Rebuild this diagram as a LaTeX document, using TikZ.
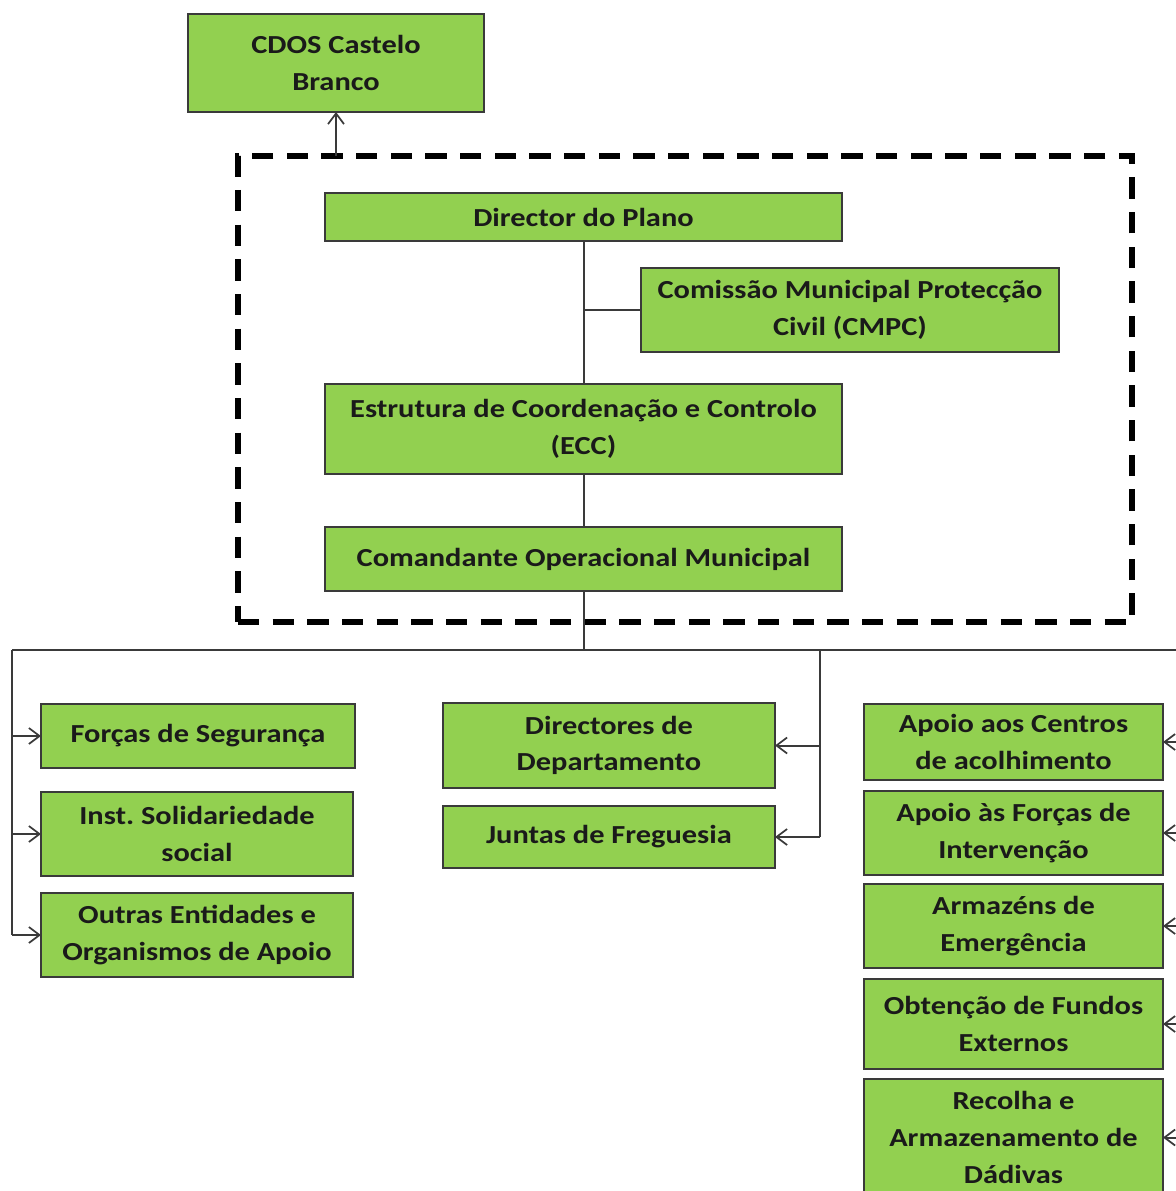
\documentclass[tikz,border=0pt]{standalone}
\usepackage{fontspec}
\setmainfont{Carlito}[FakeStretch=1.17]
\usetikzlibrary{arrows.meta}
\definecolor{boxgreen}{HTML}{92D050}
\definecolor{boxline}{HTML}{3A3A3A}
\definecolor{ink}{HTML}{1A1A1A}
\frenchspacing
\tikzset{
  gbox/.style={draw=boxline, line width=1.5pt, fill=boxgreen, text=ink,
    align=center, inner sep=0pt, outer sep=0pt,
    font=\fontsize{19.5}{27.5}\selectfont\bfseries},
  link/.style={draw=boxline, line width=1.5pt},
  arr/.style={link, -{Straight Barb[length=8pt,width=12pt,line width=1.3pt]}},
  grpframe/.style={draw=black, line width=3.8pt, dash pattern=on 16pt off 10pt,
    inner sep=0pt, outer sep=0pt}
}
% box by its corners: name, x1, y1, x2, y2, text
\newcommand\gbox[6]{%
  \node[gbox, minimum width={(#4-#2)*0.75pt}, minimum height={(#5-#3)*0.75pt}]
    (#1) at ({(#2+#4)/2},{(#3+#5)/2}) {#6};}
\begin{document}
\begin{tikzpicture}[x=0.75pt,y=-0.75pt]
\useasboundingbox (0,0) rectangle (1176,1191);

% coordination structure
\node[grpframe, minimum width={894*0.75pt}, minimum height={466*0.75pt}]
  (grp) at (685,389) {};

\gbox{cdos}{188}{14}{484}{112}{CDOS Castelo\\Branco}
\gbox{dir}{325}{193}{842}{241}{Director do Plano}
\gbox{cmpc}{641}{268}{1059}{352}{Comissão Municipal Protecção\\Civil (CMPC)}
\gbox{ecc}{325}{384}{842}{474}{Estrutura de Coordenação e Controlo\\(ECC)}
\gbox{com}{325}{527}{842}{591}{Comandante Operacional Municipal}

% left column
\gbox{seg}{41}{704}{355}{768}{Forças de Segurança}
\gbox{inst}{41}{792}{353}{876}{Inst. Solidariedade\\social}
\gbox{outr}{41}{893}{353}{977}{Outras Entidades e\\Organismos de Apoio}

% middle column
\gbox{depto}{443}{703}{775}{788}{Directores de\\Departamento}
\gbox{junt}{443}{806}{775}{868}{Juntas de Freguesia}

% right column
\gbox{cent}{864}{704}{1163}{780}{Apoio aos Centros\\de acolhimento}
\gbox{forc}{864}{791}{1163}{875}{Apoio às Forças de\\Intervenção}
\gbox{arm}{864}{884}{1163}{968}{Armazéns de\\Emergência}
\gbox{fund}{864}{979}{1163}{1069}{Obtenção de Fundos\\Externos}
\gbox{rec}{864}{1079}{1163}{1196}{Recolha e\\Armazenamento de\\Dádivas}

% link to the district command
\draw[arr] (cdos.south |- grp.north) -- (cdos.south);

% chain of command
\draw[link] (dir.south) -- (ecc.north);
\draw[link] (cmpc.west) -- (cmpc.west -| dir.south);
\draw[link] (ecc.south) -- (com.north);

% distribution bus
\coordinate (busC) at (583.5,650);
\coordinate (busL) at (12,650);
\coordinate (busM) at (820,650);
\coordinate (busR) at (1190,650);
\draw[link] (com.south) -- (busC);
\draw[link] (busL) -- (busR);

\draw[link] (busL) -- (busL |- outr.west);
\foreach \n in {seg,inst,outr}
  \draw[arr] (busL |- \n.west) -- (\n.west);

\draw[link] (busM) -- (busM |- junt.east);
\foreach \n in {depto,junt}
  \draw[arr] (busM |- \n.east) -- (\n.east);

\draw[link] (busR) -- (busR |- rec.east);
\foreach \n in {cent,forc,arm,fund,rec}
  \draw[arr] (busR |- \n.east) -- (\n.east);
\end{tikzpicture}
\end{document}
